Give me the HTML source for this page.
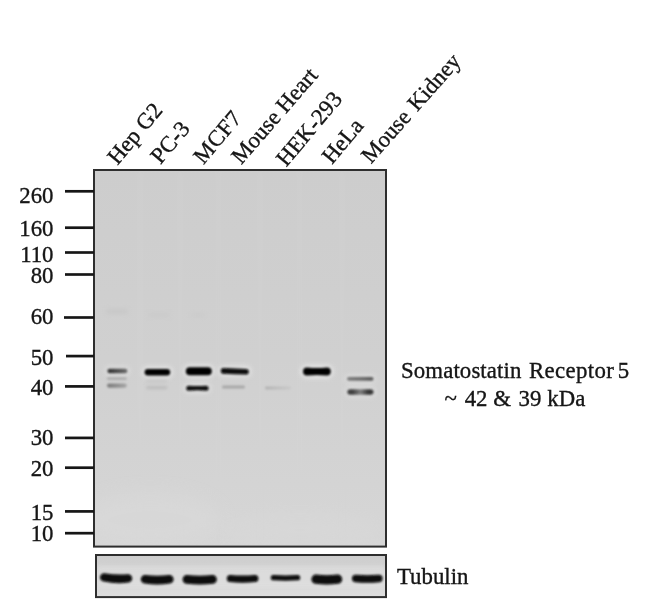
<!DOCTYPE html>
<html lang="en">
<head>
<meta charset="utf-8">
<title>Somatostatin Receptor 5 Western Blot</title>
<style>
  html, body { margin: 0; padding: 0; background: #ffffff; }
  body { width: 650px; height: 604px; overflow: hidden; }
  svg { display: block; }
  text { font-family: "Liberation Serif", "Times New Roman", serif; font-size: 22.8px; fill: #141414; stroke: #141414; stroke-width: 0.35px; word-spacing: 2px; }
</style>
</head>
<body>
<svg width="650" height="604" viewBox="0 0 650 604">
  <defs>
    <filter id="b1" x="-20%" y="-80%" width="140%" height="260%"><feGaussianBlur stdDeviation="0.9"/></filter>
    <filter id="b2" x="-20%" y="-100%" width="140%" height="300%"><feGaussianBlur stdDeviation="1.4"/></filter>
    <filter id="b3" x="-30%" y="-100%" width="160%" height="300%"><feGaussianBlur stdDeviation="2.2"/></filter>
    <filter id="b8" x="-30%" y="-30%" width="160%" height="160%"><feGaussianBlur stdDeviation="8"/></filter>
    <filter id="tb" x="-5%" y="-5%" width="110%" height="110%"><feGaussianBlur stdDeviation="0.45"/></filter>
    <linearGradient id="gelbg" x1="0" y1="0" x2="0" y2="1">
      <stop offset="0" stop-color="#cdcdcd"/>
      <stop offset="0.5" stop-color="#d0d0d0"/>
      <stop offset="1" stop-color="#d6d6d6"/>
    </linearGradient>
    <linearGradient id="tubbg" x1="0" y1="0" x2="0" y2="1">
      <stop offset="0" stop-color="#cdcdcd"/>
      <stop offset="0.5" stop-color="#d5d5d5"/>
      <stop offset="1" stop-color="#dddddd"/>
    </linearGradient>
    <linearGradient id="gL1" x1="0" y1="0" x2="1" y2="0">
      <stop offset="0" stop-color="#2e2e2e"/><stop offset="0.45" stop-color="#4a4a4a"/><stop offset="1" stop-color="#6a6a6a"/>
    </linearGradient>
    <linearGradient id="gL2" x1="0" y1="0" x2="1" y2="0">
      <stop offset="0" stop-color="#7a7a7a"/><stop offset="0.5" stop-color="#8e8e8e"/><stop offset="1" stop-color="#a6a6a6"/>
    </linearGradient>
    <linearGradient id="gL3" x1="0" y1="0" x2="1" y2="0">
      <stop offset="0" stop-color="#b2b2b2"/><stop offset="0.5" stop-color="#bebebe"/><stop offset="1" stop-color="#c8c8c8"/>
    </linearGradient>
    <linearGradient id="gR1" x1="0" y1="0" x2="1" y2="0">
      <stop offset="0" stop-color="#7c7c7c"/><stop offset="0.6" stop-color="#6a6a6a"/><stop offset="1" stop-color="#555555"/>
    </linearGradient>
    <linearGradient id="gBone" x1="0" y1="0" x2="1" y2="0">
      <stop offset="0" stop-color="#454545"/><stop offset="0.2" stop-color="#3e3e3e"/><stop offset="0.5" stop-color="#808080"/><stop offset="0.8" stop-color="#333333"/><stop offset="1" stop-color="#3c3c3c"/>
    </linearGradient>
    <clipPath id="gelclip"><rect x="95" y="171" width="290" height="374"/></clipPath>
    <clipPath id="tubclip"><rect x="97" y="556" width="288" height="39.5"/></clipPath>
  </defs>
  <rect x="0" y="0" width="650" height="604" fill="#ffffff"/>

  <!-- main blot membrane -->
  <rect x="94" y="170" width="292" height="376.6" fill="url(#gelbg)" stroke="#2e2e2e" stroke-width="2"/>
  <g clip-path="url(#gelclip)">
    <!-- subtle lane streaks -->
    <g opacity="0.28" filter="url(#b3)">
      <rect x="138" y="171" width="4" height="374" fill="#d4d4d4"/>
      <rect x="178" y="171" width="4" height="374" fill="#d3d3d3"/>
      <rect x="217" y="171" width="3" height="374" fill="#d4d4d4"/>
      <rect x="258" y="171" width="4" height="374" fill="#d3d3d3"/>
      <rect x="298" y="171" width="3" height="374" fill="#d4d4d4"/>
      <rect x="340" y="171" width="4" height="374" fill="#d3d3d3"/>
    </g>
    <ellipse cx="150" cy="520" rx="70" ry="28" fill="#dadada" opacity="0.55" filter="url(#b8)"/>
    <ellipse cx="300" cy="530" rx="80" ry="18" fill="#d9d9d9" opacity="0.45" filter="url(#b8)"/>
    
    <rect x="106" y="309" width="22" height="5" rx="2.5" fill="#c3c3c3" opacity="0.6" filter="url(#b3)"/>
    <rect x="148" y="313" width="22" height="4" rx="2" fill="#c5c5c5" opacity="0.5" filter="url(#b3)"/>
    <rect x="190" y="313" width="16" height="4" rx="2" fill="#c6c6c6" opacity="0.45" filter="url(#b3)"/>

    <!-- bands -->
        <rect x="104.4" y="365.7" width="26.0" height="10.6" rx="5.3" fill="#e6e6e6" opacity="0.5" filter="url(#b3)"/>
    <path d="M109.70,368.70 Q117.40,368.70 125.10,368.70 A2.30,2.30 0 0 1 125.10,373.30 Q117.40,373.30 109.70,373.30 A2.30,2.30 0 0 1 109.70,368.70 Z" fill="url(#gL1)" opacity="1.0" filter="url(#b1)"/>
    <path d="M108.40,377.30 Q116.90,377.30 125.40,377.30 A1.40,1.40 0 0 1 125.40,380.10 Q116.90,380.10 108.40,380.10 A1.40,1.40 0 0 1 108.40,377.30 Z" fill="#aaa" opacity="0.9" filter="url(#b1)"/>
    <path d="M109.10,383.50 Q116.90,383.50 124.70,383.50 A2.10,2.10 0 0 1 124.70,387.70 Q116.90,387.70 109.10,387.70 A2.10,2.10 0 0 1 109.10,383.50 Z" fill="url(#gL2)" opacity="1.0" filter="url(#b1)"/>
    <rect x="141.6" y="365.9" width="31.6" height="12.6" rx="6.3" fill="#e6e6e6" opacity="0.8" filter="url(#b3)"/>
    <path d="M147.90,368.90 Q157.40,368.90 166.90,368.90 A3.30,3.30 0 0 1 166.90,375.50 Q157.40,375.50 147.90,375.50 A3.30,3.30 0 0 1 147.90,368.90 Z" fill="#060606" opacity="1.0" filter="url(#b1)"/>
    <path d="M147.70,385.90 Q156.75,385.90 165.80,385.90 A1.70,1.70 0 0 1 165.80,389.30 Q156.75,389.30 147.70,389.30 A1.70,1.70 0 0 1 147.70,385.90 Z" fill="#bdbdbd" opacity="1.0" filter="url(#b2)"/>
    <path d="M147.30,379.90 Q156.75,379.90 166.20,379.90 A1.30,1.30 0 0 1 166.20,382.50 Q156.75,382.50 147.30,382.50 A1.30,1.30 0 0 1 147.30,379.90 Z" fill="#c6c6c6" opacity="1.0" filter="url(#b2)"/>
    <rect x="182.8" y="364.2" width="32.0" height="14.0" rx="7.0" fill="#e6e6e6" opacity="0.8" filter="url(#b3)"/>
    <path d="M189.80,367.20 Q198.80,367.20 207.80,367.20 A4.00,4.00 0 0 1 207.80,375.20 Q198.80,375.20 189.80,375.20 A4.00,4.00 0 0 1 189.80,367.20 Z" fill="#050505" opacity="1.0" filter="url(#b1)"/>
    <rect x="183.2" y="382.7" width="28.4" height="11.0" rx="5.5" fill="#e6e6e6" opacity="0.6" filter="url(#b3)"/>
    <path d="M188.70,385.70 Q197.40,386.50 206.10,385.70 A2.50,2.50 0 0 1 206.10,390.70 Q197.40,389.90 188.70,390.70 A2.50,2.50 0 0 1 188.70,385.70 Z" fill="#0d0d0d" opacity="1.0" filter="url(#b1)"/>
    <rect x="217.8" y="365.5" width="34.0" height="11.6" rx="5.8" fill="#e6e6e6" opacity="0.8" filter="url(#b3)"/>
    <path d="M223.60,368.10 Q234.80,368.50 246.00,368.90 A2.80,2.80 0 0 1 246.00,374.50 Q234.80,374.10 223.60,373.70 A2.80,2.80 0 0 1 223.60,368.10 Z" fill="#080808" opacity="1.0" filter="url(#b1)"/>
    <path d="M223.50,385.60 Q233.50,385.60 243.50,385.60 A1.50,1.50 0 0 1 243.50,388.60 Q233.50,388.60 223.50,388.60 A1.50,1.50 0 0 1 223.50,385.60 Z" fill="#a8a8a8" opacity="1.0" filter="url(#b1)"/>
    <path d="M266.40,386.60 Q278.00,386.60 289.60,386.60 A1.40,1.40 0 0 1 289.60,389.40 Q278.00,389.40 266.40,389.40 A1.40,1.40 0 0 1 266.40,386.60 Z" fill="url(#gL3)" opacity="1.0" filter="url(#b1)"/>
    <rect x="300.0" y="364.5" width="33.8" height="14.0" rx="7.0" fill="#e6e6e6" opacity="0.9" filter="url(#b3)"/>
    <path d="M307.00,367.50 Q316.90,368.70 326.80,367.50 A4.00,4.00 0 0 1 326.80,375.50 Q316.90,374.30 307.00,375.50 A4.00,4.00 0 0 1 307.00,367.50 Z" fill="#050505" opacity="1.0" filter="url(#b1)"/>
    <rect x="344.0" y="373.9" width="32.5" height="9.8" rx="4.9" fill="#e6e6e6" opacity="0.4" filter="url(#b3)"/>
    <path d="M348.90,376.90 Q360.25,376.90 371.60,376.90 A1.90,1.90 0 0 1 371.60,380.70 Q360.25,380.70 348.90,380.70 A1.90,1.90 0 0 1 348.90,376.90 Z" fill="url(#gR1)" opacity="1.0" filter="url(#b1)"/>
    <rect x="344.3" y="386.3" width="32.2" height="11.4" rx="5.7" fill="#e6e6e6" opacity="0.5" filter="url(#b3)"/>
    <path d="M350.00,389.30 Q360.40,389.30 370.80,389.30 A2.70,2.70 0 0 1 370.80,394.70 Q360.40,394.70 350.00,394.70 A2.70,2.70 0 0 1 350.00,389.30 Z" fill="url(#gBone)" opacity="1.0" filter="url(#b1)"/>
  </g>

  <!-- tubulin panel -->
  <rect x="96" y="555" width="290" height="42.1" fill="url(#tubbg)" stroke="#2e2e2e" stroke-width="2"/>
  <g clip-path="url(#tubclip)">
    <rect x="97" y="566" width="288" height="22" fill="#e2e2e2" opacity="0.55" filter="url(#b3)"/>
    <g fill="#070707" filter="url(#b1)">
            <path d="M104.20,573.20 Q116.10,575.30 128.00,574.20 A4.20,4.20 0 0 1 128.00,582.60 Q116.10,584.18 104.20,581.60 A4.20,4.20 0 0 1 104.20,573.20 Z"/>
      <path d="M145.10,574.90 Q157.20,576.50 169.30,574.90 A4.30,4.30 0 0 1 169.30,583.50 Q157.20,585.58 145.10,583.50 A4.30,4.30 0 0 1 145.10,574.90 Z"/>
      <path d="M186.90,575.10 Q199.70,576.30 212.50,575.10 A4.30,4.30 0 0 1 212.50,583.70 Q199.70,585.26 186.90,583.70 A4.30,4.30 0 0 1 186.90,575.10 Z"/>
      <path d="M230.30,575.00 Q242.60,576.00 254.90,575.00 A3.50,3.50 0 0 1 254.90,582.00 Q242.60,583.30 230.30,582.00 A3.50,3.50 0 0 1 230.30,575.00 Z"/>
      <path d="M273.40,575.10 Q285.50,575.70 297.60,575.10 A2.60,2.60 0 0 1 297.60,580.30 Q285.50,581.08 273.40,580.30 A2.60,2.60 0 0 1 273.40,575.10 Z"/>
      <path d="M316.00,574.60 Q326.80,575.80 337.60,574.60 A4.60,4.60 0 0 1 337.60,583.80 Q326.80,585.36 316.00,583.80 A4.60,4.60 0 0 1 316.00,574.60 Z"/>
      <path d="M355.70,574.80 Q367.30,575.60 378.90,574.80 A3.70,3.70 0 0 1 378.90,582.20 Q367.30,583.24 355.70,582.20 A3.70,3.70 0 0 1 355.70,574.80 Z"/>
    </g>
  </g>

  <!-- marker ticks -->
  <g stroke="#161616" stroke-width="2.7" stroke-linecap="butt" filter="url(#tb)">
    <line x1="65" y1="191.3" x2="94" y2="191.3"/>
    <line x1="65" y1="227.7" x2="94" y2="227.7"/>
    <line x1="65" y1="252.5" x2="94" y2="252.5"/>
    <line x1="65" y1="274.5" x2="94" y2="274.5"/>
    <line x1="64" y1="317.5" x2="94" y2="317.5"/>
    <line x1="66" y1="356.1" x2="94" y2="356.1"/>
    <line x1="65" y1="386.4" x2="94" y2="386.4"/>
    <line x1="65" y1="437.9" x2="94" y2="437.9"/>
    <line x1="65" y1="467.7" x2="94" y2="467.7"/>
    <line x1="65" y1="511.4" x2="94" y2="511.4"/>
    <line x1="65" y1="533.2" x2="94" y2="533.2"/>
  </g>

  <!-- marker labels -->
  <g text-anchor="end" filter="url(#tb)">
    <text x="53.5" y="202.8">260</text>
    <text x="53.5" y="236.4">160</text>
    <text x="53.5" y="261.8">110</text>
    <text x="53.5" y="283.3">80</text>
    <text x="53.5" y="324.2">60</text>
    <text x="53.5" y="364.5">50</text>
    <text x="53.5" y="395.3">40</text>
    <text x="53.5" y="445.2">30</text>
    <text x="53.5" y="476.4">20</text>
    <text x="53.5" y="520.1">15</text>
    <text x="53.5" y="540.5">10</text>
  </g>

  <!-- lane labels -->
  <g filter="url(#tb)">
    <text transform="translate(117.4,165.8) rotate(-50)" style="word-spacing:0.3px">Hep G2</text>
    <text transform="translate(160.5,165) rotate(-49.5)">PC-3</text>
    <text transform="translate(203.5,165.2) rotate(-50)" style="letter-spacing:0.4px">MCF7</text>
    <text transform="translate(241.2,165.3) rotate(-49)" style="word-spacing:0px">Mouse Heart</text>
    <text transform="translate(286.3,167.5) rotate(-50)">HEK-293</text>
    <text transform="translate(332,165) rotate(-50)">HeLa</text>
    <text transform="translate(371,164.5) rotate(-48.5)">Mouse Kidney</text>
  </g>

  <!-- right annotation -->
  <g filter="url(#tb)">
    <text x="401" y="377.8" style="letter-spacing:0.12px">Somatostatin</text>
    <text x="529" y="377.8" style="letter-spacing:0.38px">Receptor</text>
    <text x="617.8" y="377.8">5</text>
    <text x="444.6" y="405.6" style="word-spacing:0px">~ <tspan dx="2">42</tspan> &amp; <tspan dx="2">39</tspan> <tspan dx="0.2">kDa</tspan></text>
    <text x="397" y="583.7">Tubulin</text>
  </g>
</svg>
</body>
</html>
